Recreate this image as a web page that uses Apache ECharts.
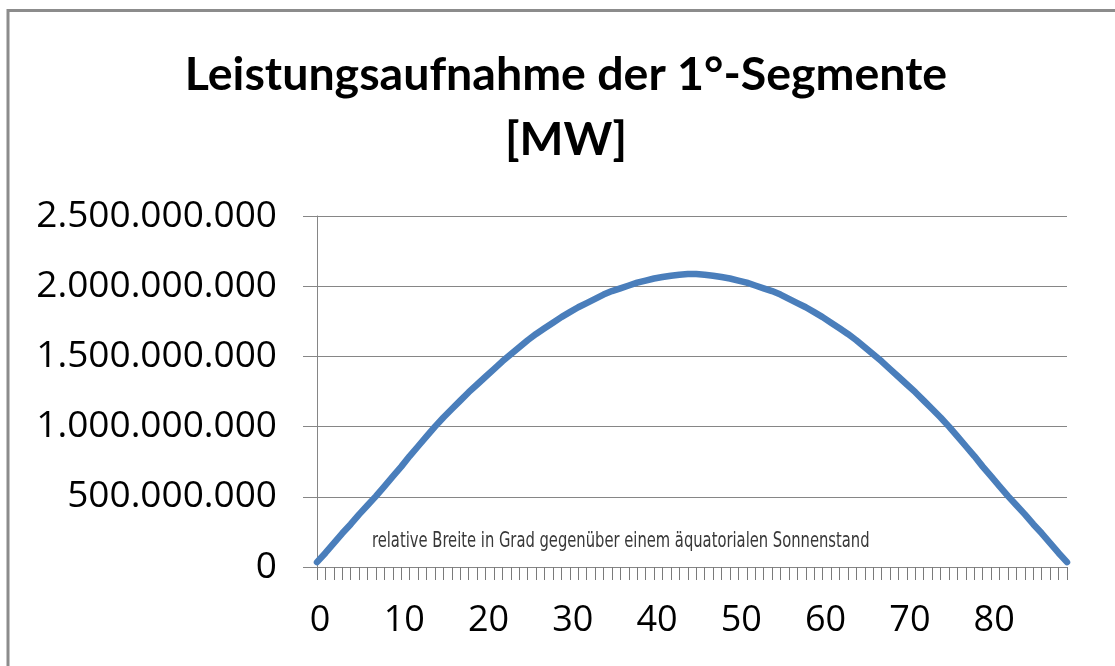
<!DOCTYPE html>
<html>
<head>
<meta charset="utf-8">
<script src="https://cdn.jsdelivr.net/npm/echarts@6/dist/echarts.min.js"></script>
<style>html,body{margin:0;padding:0;background:#fff;}#c{width:1115px;height:666px;}</style>
</head>
<body>
<div id="c"></div>
<script>
// Categories: relative latitude in degrees
var categories = [];
for (var d = 0; d <= 89; d++) categories.push(String(d));

// Power intake of the 1° segments [MW]
var values = [
  35e6, 100e6, 170e6, 240e6, 305e6, 375e6, 440e6, 505e6, 575e6, 645e6,
  715e6, 790e6, 860e6, 930e6, 1000e6, 1065e6, 1125e6, 1185e6, 1245e6, 1300e6,
  1355e6, 1410e6, 1465e6, 1515e6, 1565e6, 1615e6, 1660e6, 1700e6, 1740e6, 1780e6,
  1815e6, 1850e6, 1880e6, 1910e6, 1940e6, 1965e6, 1985e6, 2005e6, 2025e6, 2040e6,
  2055e6, 2065e6, 2075e6, 2082e6, 2087e6, 2087e6, 2082e6, 2075e6, 2065e6, 2055e6,
  2040e6, 2025e6, 2005e6, 1985e6, 1965e6, 1940e6, 1910e6, 1880e6, 1850e6, 1815e6,
  1780e6, 1740e6, 1700e6, 1660e6, 1615e6, 1565e6, 1515e6, 1465e6, 1410e6, 1355e6,
  1300e6, 1245e6, 1185e6, 1125e6, 1065e6, 1000e6, 930e6, 860e6, 790e6, 715e6,
  645e6, 575e6, 505e6, 440e6, 375e6, 305e6, 240e6, 170e6, 100e6, 35e6
];

var yTicks = [0, 500000000, 1000000000, 1500000000, 2000000000, 2500000000];
var titleText = 'Leistungsaufnahme der 1°-Segmente\n[MW]';
var axisTitle = 'relative Breite in Grad gegenüber einem äquatorialen Sonnenstand';

function deFormat(v) {
  return String(Math.round(v)).replace(/\B(?=(\d{3})+(?!\d))/g, '.');
}

var chart = echarts.init(document.getElementById('c'), null, {renderer: 'canvas'});
chart.setOption({
  animation: false,
  backgroundColor: '#ffffff',
  title: {
    text: titleText,
    left: 566,
    top: 42,
    padding: 0,
    textAlign: 'center',
    textStyle: {
      fontFamily: 'Lato',
      fontWeight: 'bold',
      fontSize: 46.5,
      lineHeight: 65,
      color: '#000000'
    }
  },
  grid: {left: 317, right: 48, top: 216, bottom: 99, containLabel: false},
  xAxis: {
    type: 'category',
    data: categories,
    boundaryGap: false,
    axisLine: {lineStyle: {color: '#868686', width: 1}},
    axisTick: {show: true, interval: 0, length: 13, inside: false, lineStyle: {color: '#7a7a7a', width: 1}},
    axisLabel: {
      interval: 9,
      margin: 36,
      padding: [0, 0, 0, 6],
      fontFamily: 'Open Sans',
      fontSize: 36,
      color: '#000000'
    },
    splitLine: {show: false}
  },
  yAxis: {
    type: 'value',
    min: yTicks[0],
    max: yTicks[yTicks.length - 1],
    interval: yTicks[1] - yTicks[0],
    axisLine: {show: true, lineStyle: {color: '#868686', width: 1}},
    axisTick: {show: true, length: 14, lineStyle: {color: '#868686', width: 1}},
    axisLabel: {
      margin: 40,
      fontFamily: 'Open Sans',
      fontSize: 37,
      color: '#000000',
      formatter: deFormat
    },
    splitLine: {show: true, lineStyle: {color: '#868686', width: 1}}
  },
  series: [{
    type: 'line',
    data: values,
    symbol: 'none',
    smooth: false,
    lineStyle: {color: '#4a7ebb', width: 6.5, cap: 'round', join: 'round'},
    z: 5
  }],
  graphic: [
    {
      type: 'rect',
      shape: {x: 8, y: 10.5, width: 1300, height: 1000},
      style: {fill: 'none', stroke: '#8c8c8c', lineWidth: 3},
      silent: true,
      z: 100
    },
    {
      type: 'text',
      x: 372,
      y: 541,
      scaleX: 0.745,
      style: {
        text: axisTitle,
        fontFamily: 'Liberation Sans Narrow, DejaVu Sans Condensed, sans-serif',
        fontSize: 22,
        fill: '#383838',
        textVerticalAlign: 'middle',
        verticalAlign: 'middle'
      },
      silent: true,
      z: 50
    }
  ]
});
</script>
</body>
</html>
